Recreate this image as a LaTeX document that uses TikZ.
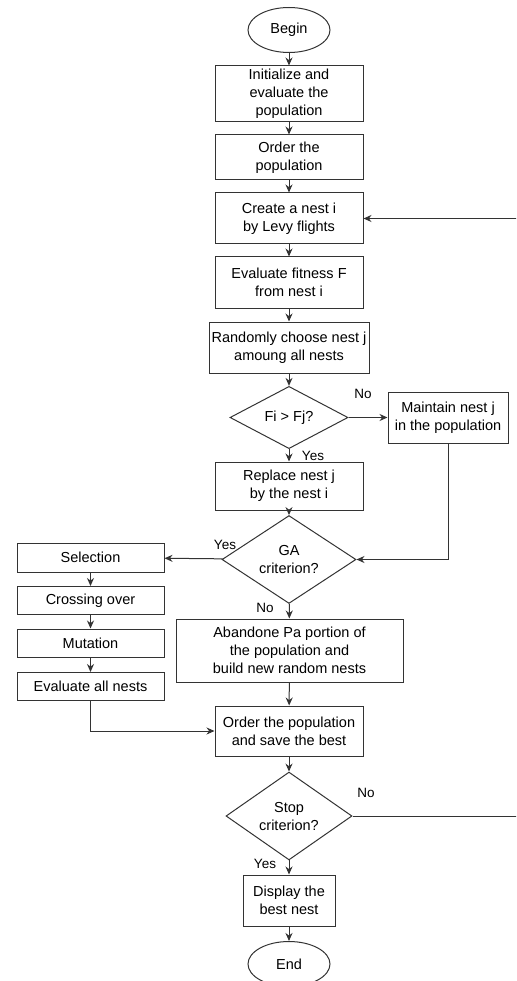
\documentclass[tikz,border=0pt]{standalone}
\usepackage{fontspec}
\setmainfont{Liberation Sans}
\usetikzlibrary{shapes.geometric,arrows.meta}

\begin{document}
\begin{tikzpicture}[x=1pt,y=-1pt,
  line width=1pt,
  every node/.style={font=\fontsize{14.5}{18}\selectfont},
  proc/.style={draw=black!80,rectangle,align=center,inner sep=0pt},
  decision/.style={draw=black!80,diamond,align=center,inner sep=0pt},
  term/.style={draw=black!80,ellipse,inner sep=0pt,minimum width=82,minimum height=45},
  flow/.style={draw=black!80,-{Stealth[length=8pt,width=7pt]}},
  tag/.style={font=\fontsize{13.5}{16}\selectfont}]
\clip (0,0) rectangle (516,981);
% main column
\node[term] (begin) at (289,30) {Begin};
\node[proc,minimum width=148,minimum height=56] (init) at (289,94) {Initialize and\\evaluate the\\population};
\node[proc,minimum width=148,minimum height=45] (order) at (289,157.5) {Order the\\population};
\node[proc,minimum width=148,minimum height=51] (create) at (289,218.5) {Create a nest i\\by Levy flights};
\node[proc,minimum width=148,minimum height=51] (evalf) at (289,282.5) {Evaluate fitness F\\from nest i};
\node[proc,minimum width=160,minimum height=51] (random) at (289,347.5) {Randomly choose nest j\\amoung all nests};
\node[decision,minimum width=118,minimum height=61] (fifj) at (289,417.5) {Fi > Fj?};
\node[proc,minimum width=120,minimum height=51] (maintain) at (448,417.5) {Maintain nest j\\in the population};
\node[proc,minimum width=148,minimum height=48] (replace) at (289,486) {Replace nest j\\by the nest i};
\node[decision,minimum width=134,minimum height=69] (ga) at (289,559.5) {GA\\criterion?};
\node[proc,minimum width=227,minimum height=63] (abandon) at (289.5,650.5) {Abandone Pa portion of\\the population and\\build new random nests};
\node[proc,minimum width=148,minimum height=50] (save) at (289,731) {Order the population\\and save the best};
\node[decision,minimum width=126,minimum height=70] (stop) at (289,816) {Stop\\criterion?};
\node[proc,minimum width=92,minimum height=51] (display) at (289,900.5) {Display the\\best nest};
\node[term] (finish) at (289,964) {End};
% GA branch
\node[proc,minimum width=147,minimum height=29] (sel) at (90.5,557.5) {Selection};
\node[proc,minimum width=147,minimum height=28] (cross) at (90.5,600.5) {Crossing over};
\node[proc,minimum width=147,minimum height=28] (mut) at (90.5,643) {Mutation};
\node[proc,minimum width=147,minimum height=28] (evalall) at (90.5,686.5) {Evaluate all nests};
\coordinate (back) at (522,816);

\draw[flow] (begin) -- (init);
\draw[flow] (init) -- (order);
\draw[flow] (order) -- (create);
\draw[flow] (create) -- (evalf);
\draw[flow] (evalf) -- (random);
\draw[flow] (random) -- (fifj);
\draw[flow] (fifj) -- (replace);
\draw[flow] (fifj) -- (maintain);
\draw[flow] (replace) -- (ga);
\draw[flow] (maintain) |- (ga.east);
\draw[flow] (ga) -- (sel);
\draw[flow] (ga) -- (abandon);
\draw[flow] (sel) -- (cross);
\draw[flow] (cross) -- (mut);
\draw[flow] (mut) -- (evalall);
\draw[flow] (evalall) |- (save);
\draw[flow] (abandon) -- (save);
\draw[flow] (save) -- (stop);
\draw[flow] (stop.east) -- (back) |- (create.east);
\draw[flow] (stop) -- (display);
\draw[flow] (display) -- (finish);

\node[tag] (no1) at (363,394) {No};
\node[tag] (yes1) at (313,456) {Yes};
\node[tag] (yes2) at (225,545) {Yes};
\node[tag] (no2) at (265,608) {No};
\node[tag] (no3) at (366,793) {No};
\node[tag] (yes3) at (265,864) {Yes};
\end{tikzpicture}
\end{document}
